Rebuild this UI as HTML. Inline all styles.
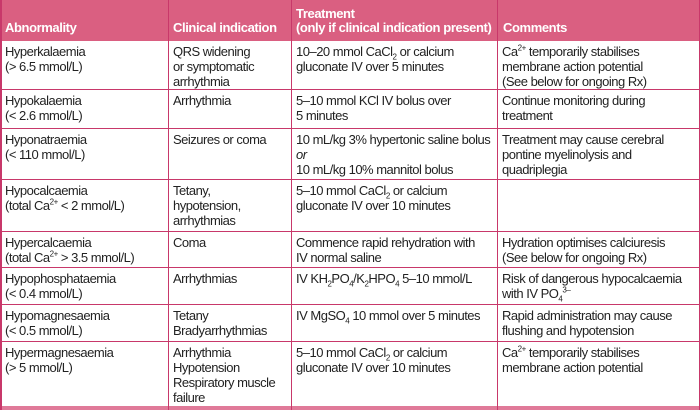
<!DOCTYPE html>
<html><head><meta charset="utf-8"><style>
body{margin:0;width:700px;height:410px;overflow:hidden;background:#fff;font-family:"Liberation Sans",sans-serif;}
.c{position:absolute;font-size:13px;line-height:15px;color:#222;letter-spacing:-0.5px;padding:3px 0 0 5px;box-sizing:border-box;}
.hl{position:absolute;left:0;width:700px;height:1px;background:#c8386a;}
.vl{position:absolute;top:0;width:1px;height:410px;background:#c8386a;}
.hd{position:absolute;left:0;top:0;width:700px;height:41px;background:#da5f81;}
.h{position:absolute;color:#fff;font-size:13px;line-height:14px;font-weight:bold;letter-spacing:-0.4px;}
sub,sup{font-size:8px;line-height:0;}
</style></head><body>
<div class="hd"></div>
<div class="h" style="left:5px;top:21px">Abnormality</div>
<div class="h" style="left:173px;top:21px">Clinical indication</div>
<div class="h" style="left:296px;top:7px">Treatment<br>(only if clinical indication present)</div>
<div class="h" style="left:503px;top:21px">Comments</div>

<div class="hl" style="top:89px"></div>
<div class="hl" style="top:128px"></div>
<div class="hl" style="top:179px"></div>
<div class="hl" style="top:231px"></div>
<div class="hl" style="top:267px"></div>
<div class="hl" style="top:304px"></div>
<div class="hl" style="top:341px"></div>
<div class="hl" style="top:406px;height:4px;background:#e07a99"></div>
<div class="vl" style="left:0;width:2px"></div>
<div class="vl" style="left:168px"></div>
<div class="vl" style="left:291px"></div>
<div class="vl" style="left:497px"></div>
<div class="vl" style="left:699px"></div>

<div class="c" style="left:0;top:41px">Hyperkalaemia<br>(&gt; 6.5 mmol/L)</div>
<div class="c" style="left:168px;top:41px">QRS widening<br>or symptomatic<br>arrhythmia</div>
<div class="c" style="left:291px;top:41px">10–20 mmol CaCl<sub>2</sub> or calcium<br>gluconate IV over 5 minutes</div>
<div class="c" style="left:497px;top:41px">Ca<sup>2+</sup> temporarily stabilises<br>membrane action potential<br>(See below for ongoing Rx)</div>

<div class="c" style="left:0;top:90px">Hypokalaemia<br>(&lt; 2.6 mmol/L)</div>
<div class="c" style="left:168px;top:90px">Arrhythmia</div>
<div class="c" style="left:291px;top:90px">5–10 mmol KCl IV bolus over<br>5 minutes</div>
<div class="c" style="left:497px;top:90px">Continue monitoring during<br>treatment</div>

<div class="c" style="left:0;top:129px">Hyponatraemia<br>(&lt; 110 mmol/L)</div>
<div class="c" style="left:168px;top:129px">Seizures or coma</div>
<div class="c" style="left:291px;top:129px">10 mL/kg 3% hypertonic saline bolus<br><i>or</i><br>10 mL/kg 10% mannitol bolus</div>
<div class="c" style="left:497px;top:129px">Treatment may cause cerebral<br>pontine myelinolysis and<br>quadriplegia</div>

<div class="c" style="left:0;top:180px">Hypocalcaemia<br>(total Ca<sup>2+</sup> &lt; 2 mmol/L)</div>
<div class="c" style="left:168px;top:180px">Tetany,<br>hypotension,<br>arrhythmias</div>
<div class="c" style="left:291px;top:180px">5–10 mmol CaCl<sub>2</sub> or calcium<br>gluconate IV over 10 minutes</div>

<div class="c" style="left:0;top:232px">Hypercalcaemia<br>(total Ca<sup>2+</sup> &gt; 3.5 mmol/L)</div>
<div class="c" style="left:168px;top:232px">Coma</div>
<div class="c" style="left:291px;top:232px">Commence rapid rehydration with<br>IV normal saline</div>
<div class="c" style="left:497px;top:232px">Hydration optimises calciuresis<br>(See below for ongoing Rx)</div>

<div class="c" style="left:0;top:268px">Hypophosphataemia<br>(&lt; 0.4 mmol/L)</div>
<div class="c" style="left:168px;top:268px">Arrhythmias</div>
<div class="c" style="left:291px;top:268px">IV KH<sub>2</sub>PO<sub>4</sub>/K<sub>2</sub>HPO<sub>4</sub> 5–10 mmol/L</div>
<div class="c" style="left:497px;top:268px">Risk of dangerous hypocalcaemia<br>with IV PO<sub>4</sub><sup>3–</sup></div>

<div class="c" style="left:0;top:305px">Hypomagnesaemia<br>(&lt; 0.5 mmol/L)</div>
<div class="c" style="left:168px;top:305px">Tetany<br>Bradyarrhythmias</div>
<div class="c" style="left:291px;top:305px">IV MgSO<sub>4</sub> 10 mmol over 5 minutes</div>
<div class="c" style="left:497px;top:305px">Rapid administration may cause<br>flushing and hypotension</div>

<div class="c" style="left:0;top:342px">Hypermagnesaemia<br>(&gt; 5 mmol/L)</div>
<div class="c" style="left:168px;top:342px">Arrhythmia<br>Hypotension<br>Respiratory muscle<br>failure</div>
<div class="c" style="left:291px;top:342px">5–10 mmol CaCl<sub>2</sub> or calcium<br>gluconate IV over 10 minutes</div>
<div class="c" style="left:497px;top:342px">Ca<sup>2+</sup> temporarily stabilises<br>membrane action potential</div>
</body></html>
